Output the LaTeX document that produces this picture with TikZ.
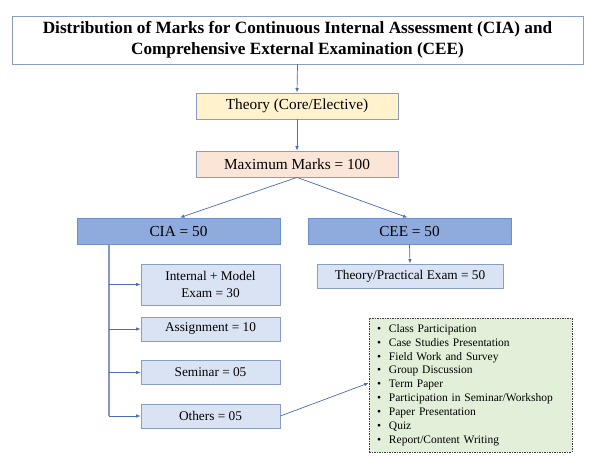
\documentclass[tikz,border=0pt]{standalone}
\usepackage{fontspec}
\setmainfont{Liberation Serif}
\usetikzlibrary{arrows.meta}
\definecolor{boxline}{HTML}{8A9CC2}
\definecolor{linkblue}{HTML}{4A6DB5}
\definecolor{trunkc}{HTML}{8497C4}
\definecolor{yel}{HTML}{FFF2CC}
\definecolor{peach}{HTML}{FBE5D6}
\definecolor{midblue}{HTML}{8FAADC}
\definecolor{midline}{HTML}{6D8ECB}
\definecolor{lightblue}{HTML}{DAE3F3}
\definecolor{lightgreen}{HTML}{E2F0D9}
\tikzset{
  x=1pt, y=-1pt,
  box/.style={draw=boxline, line width=0.8pt, inner sep=0pt, align=center},
  bigtxt/.style={font=\fontsize{15.3}{17}\selectfont},
  smalltxt/.style={font=\fontsize{13.3}{16.5}\selectfont},
  link/.style={draw=linkblue, line width=0.7pt, -{Latex[length=4.5pt,width=3.5pt]}},
  trunk/.style={draw=trunkc, line width=1.1pt},
}
\begin{document}
\begin{tikzpicture}
\useasboundingbox (0,0) rectangle (602,470);
\fill[white] (0,0) rectangle (602,470);

\node[box, fill=white, minimum width=571pt, minimum height=48pt,
      font=\fontsize{17.2}{21}\selectfont\bfseries] (title) at (297.5,40)
  {Distribution of Marks for Continuous Internal Assessment (CIA) and\\Comprehensive External Examination (CEE)};

\node[box, bigtxt, fill=yel, minimum width=202pt, minimum height=26pt] (theory) at (297,106) {Theory (Core/Elective)};
\node[box, bigtxt, fill=peach, minimum width=202pt, minimum height=26pt] (max) at (297,164) {Maximum Marks = 100};

\node[box, bigtxt, fill=midblue, draw=midline, minimum width=203pt, minimum height=26pt] (cia) at (178.5,231) {CIA = 50};
\node[box, bigtxt, fill=midblue, draw=midline, minimum width=203pt, minimum height=26pt] (cee) at (409.5,231) {CEE = 50};

\node[box, smalltxt, fill=lightblue, minimum width=186pt, minimum height=24pt] (tp) at (410,276) {Theory/Practical Exam = 50};

\node[box, smalltxt, fill=lightblue, minimum width=139pt, minimum height=41pt] (int) at (210.5,284.5) {Internal + Model\\Exam = 30};
\node[box, smalltxt, fill=lightblue, minimum width=139pt, minimum height=24pt] (asg) at (210.5,329) {Assignment = 10};
\node[box, smalltxt, fill=lightblue, minimum width=139pt, minimum height=24pt] (sem) at (210.5,372.5) {Seminar = 05};
\node[box, smalltxt, fill=lightblue, minimum width=139pt, minimum height=24pt] (oth) at (210.5,416) {Others = 05};

\node[draw=black!75, line width=0.7pt, dash pattern=on 2pt off 1.2pt on 0.6pt off 1.2pt,
      fill=lightgreen, minimum width=203pt, minimum height=134pt, text width=187pt,
      inner xsep=8pt, align=left, font=\fontsize{11.5}{13.85}\selectfont] (list) at (470.5,385)
  {\makebox[12pt][l]{\textbullet}Class Participation\\
   \makebox[12pt][l]{\textbullet}Case Studies Presentation\\
   \makebox[12pt][l]{\textbullet}Field Work and Survey\\
   \makebox[12pt][l]{\textbullet}Group Discussion\\
   \makebox[12pt][l]{\textbullet}Term Paper\\
   \makebox[12pt][l]{\textbullet}Participation in Seminar/Workshop\\
   \makebox[12pt][l]{\textbullet}Paper Presentation\\
   \makebox[12pt][l]{\textbullet}Quiz\\
   \makebox[12pt][l]{\textbullet}Report/Content Writing};

\draw[link] (title.south) -- (theory.north);
\draw[link] (theory.south) -- (max.north);
\draw[link] (max.south) -- ([xshift=1.5pt]cia.north);
\draw[link] (max.south) -- ([xshift=-2pt]cee.north);
\draw[link] (cee.south) -- (tp.north);

\coordinate (tb) at (109,416);
\draw[trunk] (cia.south -| tb) -- (tb);
\draw[link] (tb |- int.west) -- (int.west);
\draw[link] (tb |- asg.west) -- (asg.west);
\draw[link] (tb |- sem.west) -- (sem.west);
\draw[link] (tb) -- (oth.west);
\draw[link] (oth.east) -- ([yshift=2pt]list.west);
\end{tikzpicture}
\end{document}
